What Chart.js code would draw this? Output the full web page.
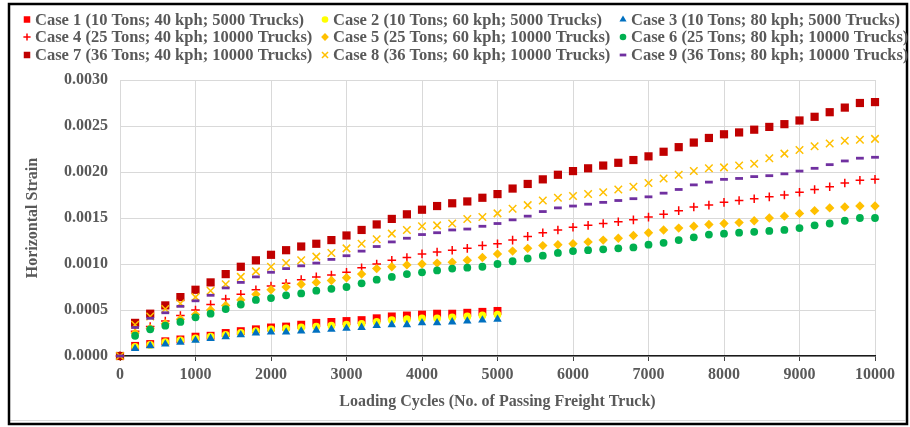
<!DOCTYPE html>
<html>
<head>
<meta charset="utf-8">
<script src="https://cdn.jsdelivr.net/npm/chart.js@4/dist/chart.umd.min.js"></script>
<style>
  html, body { margin: 0; padding: 0; background: #fff; }
  canvas { display: block; }
</style>
</head>
<body>
<canvas id="c" width="910" height="427"></canvas>
<script>
// Loading cycles (number of passing trucks)
const cycles5000 = [0, 200, 400, 600, 800, 1000, 1200, 1400, 1600, 1800, 2000, 2200, 2400, 2600, 2800,
  3000, 3200, 3400, 3600, 3800, 4000, 4200, 4400, 4600, 4800, 5000];
const cycles10000 = [0, 200, 400, 600, 800, 1000, 1200, 1400, 1600, 1800, 2000, 2200, 2400, 2600, 2800,
  3000, 3200, 3400, 3600, 3800, 4000, 4200, 4400, 4600, 4800, 5000, 5200, 5400, 5600, 5800,
  6000, 6200, 6400, 6600, 6800, 7000, 7200, 7400, 7600, 7800, 8000, 8200, 8400, 8600, 8800,
  9000, 9200, 9400, 9600, 9800, 10000];

// Horizontal strain for each loading case
const case1 = [0, 0.00011, 0.00013, 0.00016, 0.00018, 0.00021, 0.00022, 0.00025, 0.00027, 0.00029, 0.00031,
  0.00032, 0.00034, 0.00036, 0.00037, 0.00038, 0.00039, 0.00041, 0.00043, 0.00044, 0.00045,
  0.00046, 0.00046, 0.00047, 0.00048, 0.00049];
const case2 = [0, 0.00010, 0.00012, 0.00015, 0.00017, 0.00019, 0.00021, 0.00023, 0.00025, 0.00027, 0.00029,
  0.00030, 0.00031, 0.00032, 0.00033, 0.00034, 0.00035, 0.00037, 0.00039, 0.00040, 0.00041,
  0.00041, 0.00042, 0.00043, 0.00044, 0.00045];
const case3 = [0, 0.00008, 0.00011, 0.00013, 0.00015, 0.00017, 0.00019, 0.00021, 0.00023, 0.00025, 0.00026,
  0.00026, 0.00027, 0.00028, 0.00029, 0.00030, 0.00031, 0.00033, 0.00034, 0.00034, 0.00036,
  0.00036, 0.00037, 0.00038, 0.00039, 0.00040];
const case4 = [0, 0.00027, 0.00032, 0.00038, 0.00044, 0.00050, 0.00056, 0.00062, 0.00067, 0.00072, 0.00076,
  0.00079, 0.00083, 0.00086, 0.00088, 0.00091, 0.00096, 0.00100, 0.00104, 0.00107, 0.00111,
  0.00113, 0.00115, 0.00117, 0.00120, 0.00122,
  0.00126, 0.00130, 0.00134, 0.00137, 0.00140, 0.00142, 0.00144, 0.00146, 0.00148, 0.00151,
  0.00154, 0.00158, 0.00162, 0.00164, 0.00167, 0.00169, 0.00171, 0.00173, 0.00175, 0.00178,
  0.00181, 0.00184, 0.00188, 0.00191, 0.00192];
const case5 = [0, 0.00025, 0.00030, 0.00035, 0.00040, 0.00045, 0.00050, 0.00055, 0.00061, 0.00067, 0.00072,
  0.00075, 0.00078, 0.00080, 0.00082, 0.00085, 0.00089, 0.00095, 0.00097, 0.00099, 0.00100,
  0.00101, 0.00102, 0.00104, 0.00107, 0.00111,
  0.00114, 0.00117, 0.00120, 0.00121, 0.00122, 0.00124, 0.00126, 0.00128, 0.00131, 0.00134,
  0.00137, 0.00139, 0.00141, 0.00143, 0.00144, 0.00145, 0.00147, 0.00150, 0.00152, 0.00155,
  0.00158, 0.00161, 0.00162, 0.00163, 0.00163];
const case6 = [0, 0.00022, 0.00029, 0.00033, 0.00037, 0.00042, 0.00046, 0.00051, 0.00056, 0.00061, 0.00063,
  0.00066, 0.00068, 0.00071, 0.00073, 0.00075, 0.00079, 0.00083, 0.00086, 0.00089, 0.00091,
  0.00093, 0.00095, 0.00096, 0.00097, 0.00100,
  0.00103, 0.00106, 0.00109, 0.00112, 0.00114, 0.00115, 0.00116, 0.00117, 0.00118, 0.00121,
  0.00123, 0.00126, 0.00129, 0.00132, 0.00133, 0.00134, 0.00135, 0.00136, 0.00137, 0.00139,
  0.00142, 0.00144, 0.00147, 0.00150, 0.00150];
const case7 = [0, 0.00036, 0.00046, 0.00055, 0.00064, 0.00072, 0.00080, 0.00089, 0.00097, 0.00104, 0.00110,
  0.00115, 0.00119, 0.00122, 0.00126, 0.00131, 0.00137, 0.00143, 0.00149, 0.00154, 0.00159,
  0.00163, 0.00166, 0.00168, 0.00172, 0.00176,
  0.00182, 0.00187, 0.00192, 0.00197, 0.00201, 0.00204, 0.00207, 0.00210, 0.00213, 0.00217,
  0.00222, 0.00227, 0.00232, 0.00237, 0.00241, 0.00243, 0.00246, 0.00249, 0.00252, 0.00256,
  0.00260, 0.00265, 0.00270, 0.00275, 0.00276];
const case8 = [0, 0.00034, 0.00043, 0.00051, 0.00057, 0.00064, 0.00071, 0.00078, 0.00086, 0.00092, 0.00097,
  0.00101, 0.00104, 0.00108, 0.00112, 0.00117, 0.00122, 0.00127, 0.00133, 0.00137, 0.00141,
  0.00142, 0.00144, 0.00149, 0.00151, 0.00155,
  0.00160, 0.00164, 0.00169, 0.00172, 0.00174, 0.00176, 0.00178, 0.00181, 0.00184, 0.00188,
  0.00193, 0.00197, 0.00201, 0.00204, 0.00205, 0.00207, 0.00209, 0.00215, 0.00220, 0.00224,
  0.00228, 0.00231, 0.00234, 0.00235, 0.00236];
const case9 = [0, 0.00031, 0.00041, 0.00047, 0.00054, 0.00060, 0.00066, 0.00074, 0.00080, 0.00086, 0.00091,
  0.00095, 0.00098, 0.00101, 0.00105, 0.00109, 0.00114, 0.00119, 0.00124, 0.00128, 0.00132,
  0.00134, 0.00137, 0.00138, 0.00141, 0.00144,
  0.00148, 0.00152, 0.00157, 0.00161, 0.00163, 0.00165, 0.00167, 0.00169, 0.00171, 0.00173,
  0.00177, 0.00181, 0.00186, 0.00189, 0.00192, 0.00193, 0.00195, 0.00196, 0.00198, 0.00201,
  0.00204, 0.00208, 0.00212, 0.00215, 0.00216];

const caseLabels = [
  'Case 1 (10 Tons; 40 kph; 5000 Trucks)',
  'Case 2 (10 Tons; 60 kph; 5000 Trucks)',
  'Case 3 (10 Tons; 80 kph; 5000 Trucks)',
  'Case 4 (25 Tons; 40 kph; 10000 Trucks)',
  'Case 5 (25 Tons; 60 kph; 10000 Trucks)',
  'Case 6 (25 Tons; 80 kph; 10000 Trucks)',
  'Case 7 (36 Tons; 40 kph; 10000 Trucks)',
  'Case 8 (36 Tons; 60 kph; 10000 Trucks)',
  'Case 9 (36 Tons; 80 kph; 10000 Trucks)'
];
const yTickValues = [0, 0.0005, 0.0010, 0.0015, 0.0020, 0.0025, 0.0030];
const xTickValues = [0, 1000, 2000, 3000, 4000, 5000, 6000, 7000, 8000, 9000, 10000];

const TEXT = '#595959';
const SERIF = "'Liberation Serif', 'Times New Roman', serif";

function pairs(xs, ys) {
  return ys.map((v, i) => ({ x: xs[i], y: v }));
}

// marker look per case: [style, fill, stroke, radius, borderWidth, legendRadius]
const looks = [
  ['rect',      '#FF0000', '#FF0000', 5.6, 0,   4.6],
  ['circle',    '#FFFF00', '#FFFF00', 3.9, 0,   3.3],
  ['triangle',  '#0070C0', '#0070C0', 4.9, 0,   4.1],
  ['cross',     '#FF0000', '#FF0000', 4.3, 1.5, 3.6],
  ['rectRot',   '#FFC000', '#FFC000', 4.7, 0,   3.9],
  ['circle',    '#00B050', '#00B050', 3.9, 0,   3.3],
  ['rect',      '#C00000', '#C00000', 5.8, 0,   4.6],
  ['crossRot',  '#FFC000', '#FFC000', 5.3, 1.5, 4.3],
  ['line',      '#7030A0', '#7030A0', 3.9, 2.8, 3.3]
];
const seriesValues = [case1, case2, case3, case4, case5, case6, case7, case8, case9];

const datasets = seriesValues.map((vals, i) => {
  const xs = vals.length === cycles5000.length ? cycles5000 : cycles10000;
  const [style, fill, stroke, r, bw, lr] = looks[i];
  return {
    label: caseLabels[i],
    data: pairs(xs, vals),
    showLine: false,
    pointStyle: style,
    pointRadius: r,
    pointHoverRadius: r,
    pointBackgroundColor: fill,
    pointBorderColor: stroke,
    pointBorderWidth: bw,
    backgroundColor: fill,
    borderColor: stroke,
    legendRadius: lr,
    order: 9 - i,
    clip: false
  };
});

// White page, framed box and a three-column key above the plot
const frameAndKey = {
  id: 'frameAndKey',
  beforeDraw(chart) {
    const ctx = chart.ctx;
    ctx.save();
    ctx.fillStyle = '#fff';
    ctx.fillRect(0, 0, chart.width, chart.height);
    ctx.restore();
  },
  afterDraw(chart) {
    const ctx = chart.ctx;
    ctx.save();
    // outer frame
    ctx.strokeStyle = '#d9d9d9';
    ctx.lineWidth = 1;
    ctx.beginPath();
    ctx.moveTo(10, 420.5);
    ctx.lineTo(905, 420.5);
    ctx.stroke();
    ctx.strokeStyle = '#000';
    ctx.lineWidth = 2.5;
    ctx.strokeRect(9, 4, 898, 420);

    // key
    const colX = [27, 325, 623];
    const rowY = [19.5, 37, 55];
    ctx.font = 'bold 16.5px ' + SERIF;
    ctx.fillStyle = TEXT;
    ctx.textBaseline = 'middle';
    chart.data.datasets.forEach((ds, i) => {
      const col = i % 3, row = Math.floor(i / 3);
      const x = colX[col], y = rowY[row];
      ctx.save();
      ctx.fillStyle = ds.pointBackgroundColor;
      ctx.strokeStyle = ds.pointBorderColor;
      ctx.lineWidth = ds.pointBorderWidth;
      Chart.helpers.drawPoint(ctx, {
        pointStyle: ds.pointStyle,
        radius: ds.legendRadius,
        rotation: 0,
        borderWidth: ds.pointBorderWidth
      }, x, y);
      ctx.restore();
      ctx.fillStyle = TEXT;
      ctx.textAlign = 'left';
      ctx.fillText(ds.label, x + 8, y + 1);
    });
    ctx.restore();
  }
};

new Chart(document.getElementById('c'), {
  type: 'scatter',
  data: { datasets },
  plugins: [frameAndKey],
  options: {
    responsive: false,
    animation: false,
    devicePixelRatio: 1,
    layout: { padding: { left: 10, right: 35, top: 80, bottom: 10 } },
    plugins: {
      legend: { display: false },
      tooltip: { enabled: false }
    },
    scales: {
      x: {
        type: 'linear',
        min: 0,
        max: 10000,
        afterBuildTicks(scale) { scale.ticks = xTickValues.map(v => ({ value: v })); },
        afterFit(scale) { scale.height = 61; },
        ticks: {
          font: { family: SERIF, size: 16, weight: 'bold' },
          color: TEXT,
          padding: 4,
          maxRotation: 0,
          callback: v => String(v)
        },
        grid: { color: '#d9d9d9', lineWidth: 1, tickLength: 5, tickColor: '#404040' },
        border: { color: '#1a1a1a', width: 1.5 },
        title: {
          display: true,
          text: 'Loading Cycles (No. of Passing Freight Truck)',
          font: { family: SERIF, size: 16, weight: 'bold' },
          color: TEXT,
          padding: { top: 0, bottom: 6 }
        }
      },
      y: {
        type: 'linear',
        min: 0,
        max: 0.003,
        afterBuildTicks(scale) { scale.ticks = yTickValues.map(v => ({ value: v })); },
        afterFit(scale) { scale.width = 110; },
        ticks: {
          font: { family: SERIF, size: 16, weight: 'bold' },
          color: TEXT,
          padding: 12,
          callback: v => Number(v).toFixed(4)
        },
        grid: { color: '#d9d9d9', lineWidth: 1, drawTicks: false },
        border: { color: '#d9d9d9', width: 1 },
        title: {
          display: true,
          text: 'Horizontal Strain',
          font: { family: SERIF, size: 16, weight: 'bold' },
          color: TEXT,
          padding: { top: 13, bottom: 0 }
        }
      }
    }
  }
});
</script>
</body>
</html>
